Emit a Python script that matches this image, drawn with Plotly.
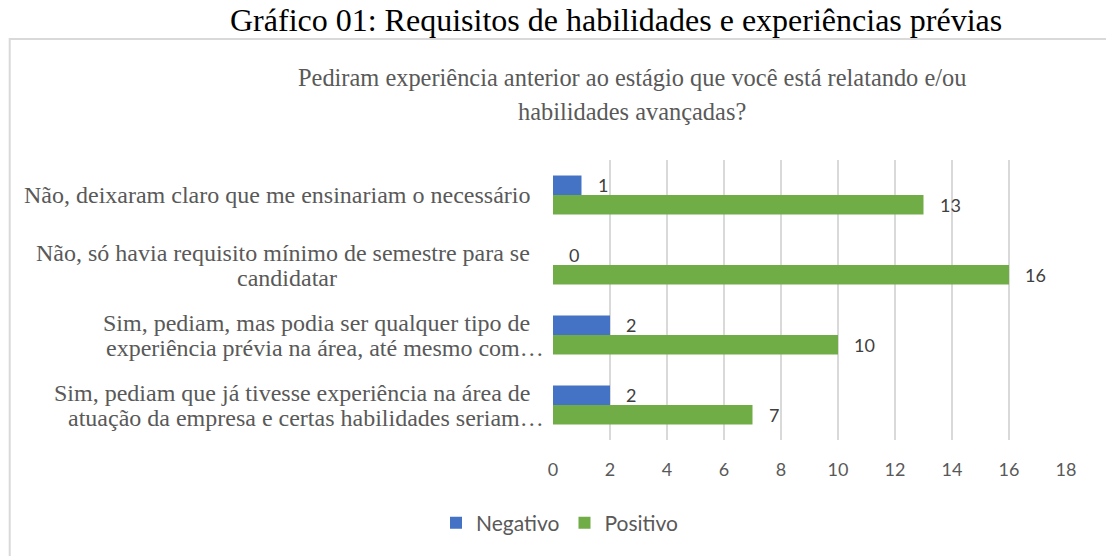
import plotly.graph_objects as go

categories = [
    "Não, deixaram claro que me ensinariam o necessário",
    "Não, só havia requisito mínimo de semestre para se<br>candidatar",
    "Sim, pediam, mas podia ser qualquer tipo de<br>experiência prévia na área, até mesmo com…",
    "Sim, pediam que já tivesse experiência na área de<br>atuação da empresa e certas habilidades seriam…",
]
negativo = [1, 0, 2, 2]
positivo = [13, 16, 10, 7]
x_ticks = [0, 2, 4, 6, 8, 10, 12, 14, 16, 18]
outer_title = "Gráfico 01: Requisitos de habilidades e experiências prévias"
chart_title = ["Pediram experiência anterior ao estágio que você está relatando e/ou",
               "habilidades avançadas?"]

W, H = 1106, 556
L, R, T, B = 553, 1106 - 1066, 160, 556 - 440
PW, PH = W - L - R, H - T - B


def px2x(px):
    return (px - L) / PW


def px2y(py):
    return (H - B - py) / PH


SERIF = "Liberation Serif, Times New Roman, serif"
SANS = "Lato, Carlito, Calibri, sans-serif"
GRAY = "#595959"

fig = go.Figure()
fig.add_trace(go.Bar(
    y=categories, x=negativo, name="Negativo", orientation="h",
    marker=dict(color="#4472C4", line=dict(width=0)),
))
fig.add_trace(go.Bar(
    y=categories, x=positivo, name="Positivo", orientation="h",
    marker=dict(color="#70AD47", line=dict(width=0)),
))

annotations = []
# data labels
for series, shift in ((negativo, 9.75), (positivo, -9.75)):
    for cat, v in zip(categories, series):
        annotations.append(dict(x=v, y=cat, xref="x", yref="y", text=str(v), showarrow=False,
                                xanchor="left", yanchor="middle", xshift=14, yshift=shift,
                                font=dict(family=SANS, size=18, color="#404040")))
# category labels (Excel-like: centred lines, tight line spacing)
LBL = dict(family=SERIF, size=24, color=GRAY)
for i, cat in enumerate(categories):
    lines = cat.split("<br>")
    if len(lines) == 1:
        annotations.append(dict(x=px2x(532), y=cat, xref="paper", yref="y", text=lines[0],
                                showarrow=False, xanchor="right", yanchor="middle", font=LBL))
    else:
        annotations.append(dict(x=px2x(532), y=cat, xref="paper", yref="y", text=lines[0],
                                showarrow=False, xanchor="right", yanchor="middle",
                                yshift=12.5, font=LBL))
        if lines[1].endswith("…"):
            annotations.append(dict(x=px2x(546), y=cat, xref="paper", yref="y", text=lines[1],
                                    showarrow=False, xanchor="right", yanchor="middle",
                                    yshift=-12.5, font=LBL))
        else:
            annotations.append(dict(x=px2x(287), y=cat, xref="paper", yref="y", text=lines[1],
                                    showarrow=False, xanchor="center", yanchor="middle",
                                    yshift=-12.5, font=LBL))
# titles
annotations.append(dict(x=px2x(616), y=px2y(0.5), xref="paper", yref="paper",
                        text=outer_title, showarrow=False, xanchor="center", yanchor="top",
                        borderpad=0, font=dict(family=SERIF, size=32, color="#000000")))
for line, ypx in zip(chart_title, (78, 112)):
    annotations.append(dict(x=px2x(632), y=px2y(ypx), xref="paper", yref="paper",
                            text=line, showarrow=False, xanchor="center", yanchor="middle",
                            font=dict(family=SERIF, size=24.4, color=GRAY)))

shapes = [dict(type="rect", xref="paper", yref="paper",
               x0=px2x(9.7), x1=px2x(1125), y0=px2y(575), y1=px2y(39),
               line=dict(color="#d9d9d9", width=2), fillcolor="rgba(0,0,0,0)", layer="below")]

fig.update_layout(
    width=W, height=H,
    margin=dict(l=L, r=R, t=T, b=B, pad=0),
    paper_bgcolor="white", plot_bgcolor="white",
    barmode="group", bargap=0.443, bargroupgap=0,
    hovermode=False,
    showlegend=True,
    legend=dict(orientation="h", x=px2x(560), xanchor="center", y=px2y(523), yanchor="middle",
                font=dict(family=SANS, size=21, color=GRAY), traceorder="normal",
                itemwidth=30),
    xaxis=dict(range=[0, 18], tickvals=x_ticks, showgrid=True, gridcolor="#d9d9d9", gridwidth=1.5,
               zeroline=False, showline=False, ticks="", ticklabelstandoff=17,
               tickfont=dict(family=SANS, size=18, color=GRAY)),
    yaxis=dict(autorange="reversed", showticklabels=False, showgrid=False, zeroline=False,
               showline=False, ticks=""),
    annotations=annotations, shapes=shapes,
)

fig.write_html("out.html", config={"displayModeBar": False},
               post_script="document.body.style.margin='0px';document.body.style.overflow='hidden';")
